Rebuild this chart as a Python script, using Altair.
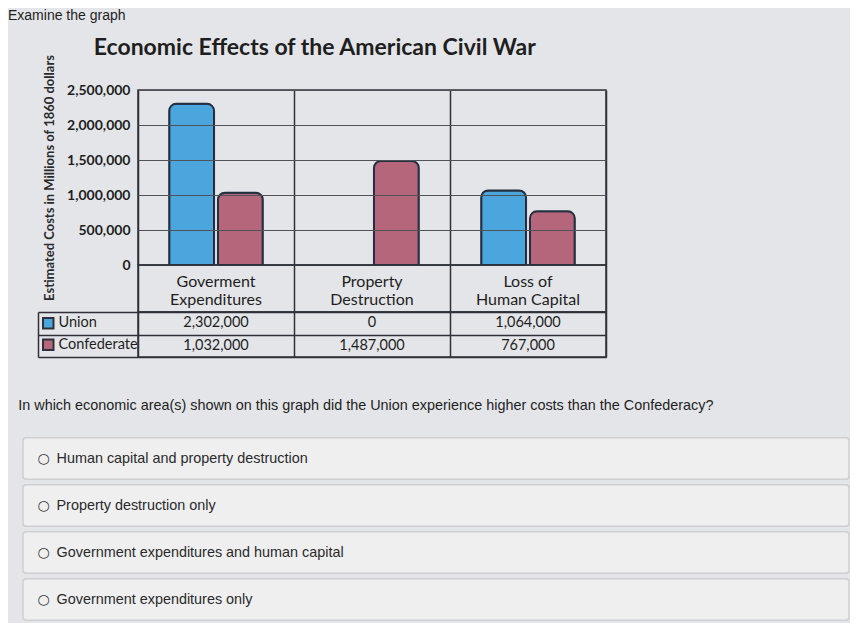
import altair as alt
import pandas as pd

# ---- data ----
categories = ["Goverment Expenditures", "Property Destruction", "Loss of Human Capital"]
header_lines = ["Goverment|Expenditures", "Property|Destruction", "Loss of|Human Capital"]
series = ["Union", "Confederate"]
union_costs = [2302000, 0, 1064000]
confederate_costs = [1032000, 1487000, 767000]
y_ticks = [0, 500000, 1000000, 1500000, 2000000, 2500000]

question = ("In which economic area(s) shown on this graph did the Union "
            "experience higher costs than the Confederacy?")
options = [
    "Human capital and property destruction",
    "Property destruction only",
    "Government expenditures and human capital",
    "Government expenditures only",
]

colors = ["#4aa6dc", "#b5667b"]
dark = "#2e3238"
font = "Lato"
ui_font = "Liberation Sans"

costs = pd.DataFrame({
    "category": categories * 2,
    "series": ["Union"] * 3 + ["Confederate"] * 3,
    "cost": union_costs + confederate_costs,
})
header_df = pd.DataFrame({"category": categories, "label": header_lines})
option_df = pd.DataFrame({"option": options, "box": "answer"})

W = 468
x_scale = alt.Scale(domain=categories, paddingInner=0, paddingOuter=0)
divider_axis = alt.Axis(labels=False, ticks=False, domain=False, grid=True,
                        gridColor=dark, gridWidth=1.5, tickBand="extent",
                        title=None, minExtent=0)
frame = alt.ViewBackground(stroke=dark, strokeWidth=1.5)

# bars (grid drawn over them, as in the picture)
bars = alt.Chart(costs).transform_filter("datum.cost > 0").mark_bar(
    cornerRadiusTopLeft=7, cornerRadiusTopRight=7, stroke="#243040", strokeWidth=2
).encode(
    x=alt.X("category:N", sort=categories, scale=x_scale, axis=divider_axis),
    xOffset=alt.XOffset("series:N", sort=series,
                        scale=alt.Scale(domain=series, paddingInner=0.08, paddingOuter=0.64)),
    y=alt.Y("cost:Q", scale=alt.Scale(domain=[0, 2500000], nice=False),
            title="Estimated Costs in Millions of 1860 dollars",
            axis=alt.Axis(values=y_ticks, format=",d", ticks=False, domain=False,
                          gridColor="#4f5257", gridWidth=1.2, zindex=1,
                          labelFont=font, labelFontSize=14, labelFontWeight="bold",
                          labelColor="#1e1e1e", labelPadding=8,
                          titleFont=font, titleFontSize=13, titleFontWeight="bold",
                          titleColor="#2a2a2a", titlePadding=10)),
    color=alt.Color("series:N", scale=alt.Scale(domain=series, range=colors), legend=None),
).properties(
    width=W, height=175, view=frame,
    title=alt.Title("Economic Effects of the American Civil War", font=font,
                    fontSize=23, fontWeight="bold", color="#1e1e1e",
                    anchor="middle", frame="bounds", offset=-6, dx=-10),
)

# category header row under the plot
header = alt.Chart(header_df).transform_calculate(
    lines="split(datum.label, '|')"
).mark_text(font=font, fontSize=16, color="#1e1e1e", lineHeight=18, baseline="middle",
            dy=-7).encode(
    x=alt.X("category:N", sort=categories, scale=x_scale, axis=divider_axis),
    text="lines:N",
).properties(width=W, height=47, view=frame)

# value table
row_scale = alt.Scale(domain=series, paddingInner=0, paddingOuter=0)
table_text = alt.Chart(costs).mark_text(font=font, fontSize=14.5, color="#1e1e1e").encode(
    x=alt.X("category:N", sort=categories, scale=x_scale, axis=divider_axis),
    y=alt.Y("series:N", sort=series, scale=row_scale,
            axis=alt.Axis(labels=False, domain=False, ticks=True, tickBand="extent",
                          tickSize=100, tickColor=dark, tickWidth=1.5, grid=True,
                          gridColor=dark, gridWidth=1.5, title=None)),
    text=alt.Text("cost:Q", format=",d"),
)
table_keys = alt.Chart(costs).mark_text(text="").encode(
    y=alt.Y("series:N", sort=series,
            axis=alt.Axis(orient="left", offset=100, labels=False, ticks=False, grid=False,
                          domain=True, domainColor=dark, domainWidth=1.5, title=None)),
    color=alt.Color("series:N", scale=alt.Scale(domain=series, range=colors),
                    legend=alt.Legend(orient="none", legendX=-97, legendY=4, title=None,
                                      symbolType="square", symbolSize=110,
                                      symbolStrokeColor=dark, symbolStrokeWidth=2,
                                      symbolOpacity=1, labelFont=font, labelFontSize=14.5,
                                      labelColor="#1e1e1e", rowPadding=2.5, padding=0,
                                      labelOffset=3)),
)
table = alt.layer(table_text, table_keys).resolve_axis(y="independent").properties(
    width=W, height=45, view=frame)

graph = alt.vconcat(bars, header, table, spacing=0, bounds="flush").resolve_scale(
    color="independent")


def spacer(w):
    return alt.Chart(pd.DataFrame({"v": [0]})).mark_point(opacity=0).properties(width=w, height=1)


# question and answer boxes
option_scale = alt.Scale(paddingInner=0.12, paddingOuter=0.06)
answer_boxes = alt.Chart(option_df).mark_rect(
    fill="#efeff0", stroke="#cfcfd2", strokeWidth=1.5, cornerRadius=3
).encode(
    x=alt.X("box:N", axis=None, scale=alt.Scale(paddingInner=0, paddingOuter=0)),
    y=alt.Y("option:N", sort=options, scale=option_scale,
            axis=alt.Axis(labelAlign="left", labelPadding=-33, ticks=False, domain=False,
                          title=None, labelFont=ui_font, labelFontSize=14.4,
                          labelColor="#2a2a2a", labelLimit=0, zindex=1)),
)
answer_radios = alt.Chart(option_df).mark_text(text="").encode(
    y=alt.Y("option:N", sort=options,
            axis=alt.Axis(orient="left", labelExpr="'○'", labelAlign="left",
                          labelPadding=-14, labelFont="DejaVu Sans", labelFontSize=14,
                          labelColor="#3a3a3a", ticks=False, domain=False, title=None,
                          zindex=1)),
)
answers = alt.layer(answer_boxes, answer_radios).resolve_axis(y="independent").properties(
    width=826, height=188,
    title=alt.Title(question, anchor="start", font=ui_font, fontSize=14.4,
                    fontWeight="normal", color="#1e1e1e", offset=22, dx=-4),
)

chart = alt.vconcat(
    alt.hconcat(spacer(28), graph, spacing=0),
    alt.hconcat(spacer(10), answers, spacing=0),
    spacing=38,
).properties(
    title=alt.Title("Examine the graph", anchor="start", font=ui_font,
                    fontSize=14, fontWeight="normal", color="#1e1e1e", offset=14),
    background="#e4e5e8",
    padding=0,
).configure_view(stroke=None)

chart.save("out.html", embed_options={"renderer": "svg", "actions": False})
